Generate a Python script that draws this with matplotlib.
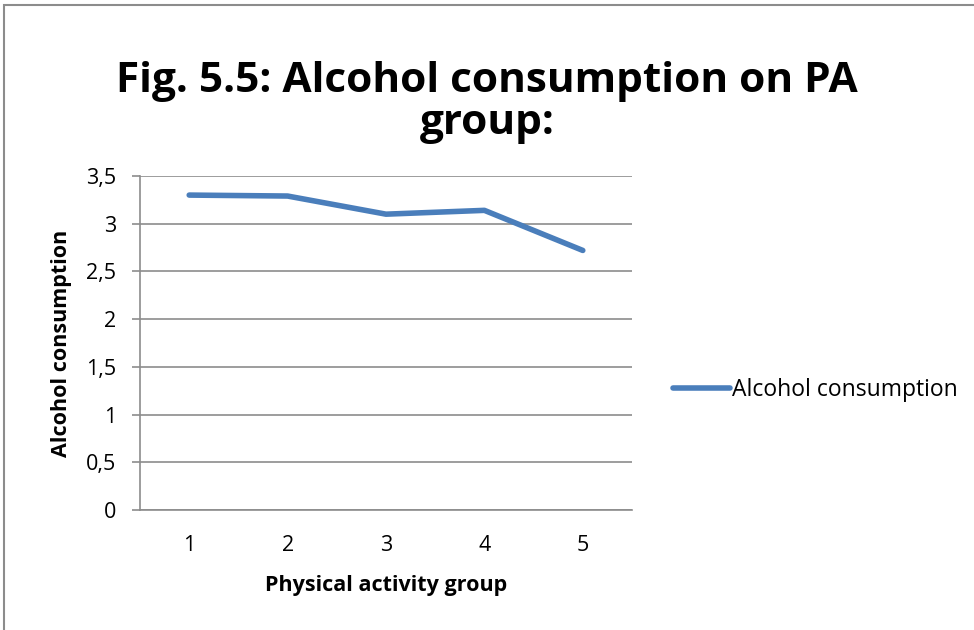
import matplotlib
matplotlib.use("Agg")
from matplotlib import pyplot as plt
from matplotlib.patches import Rectangle

plt.rcParams["font.family"] = ["Open Sans", "DejaVu Sans"]

groups = [1, 2, 3, 4, 5]
alcohol = [3.30, 3.29, 3.10, 3.14, 2.72]
yticks = [0, 0.5, 1, 1.5, 2, 2.5, 3, 3.5]
ytick_labels = ["0", "0,5", "1", "1,5", "2", "2,5", "3", "3,5"]

line_color = "#4a7ebb"
grid_color = "#8c8c8c"

fig = plt.figure(figsize=(9.74, 6.3), dpi=100)

# chart border (only left and top show in the original)
fig.patches.append(Rectangle((4 / 974, -0.05), 1.2, 1 - 5 / 630 + 0.05,
                             transform=fig.transFigure, fill=False,
                             edgecolor=grid_color, linewidth=1.5))

ax = fig.add_axes([140 / 974, 1 - 510 / 630, 492 / 974, 334 / 630])
ax.plot(groups, alcohol, color=line_color, linewidth=4,
        solid_capstyle="round", solid_joinstyle="round",
        label="Alcohol consumption")

ax.set_xlim(0.5, 5.5)
ax.set_ylim(0, 3.5)
ax.set_xticks(groups)
ax.set_yticks(yticks)
ax.set_yticklabels(ytick_labels)
ax.grid(axis="y", color=grid_color, linewidth=1.2)
ax.set_axisbelow(True)
for s in ["top", "right"]:
    ax.spines[s].set_visible(False)
ax.spines["left"].set_color(grid_color)
ax.spines["bottom"].set_color(grid_color)
ax.spines["left"].set_linewidth(1.2)
ax.spines["bottom"].set_linewidth(1.2)
ax.tick_params(axis="y", length=6, color=grid_color, width=1.2,
               labelsize=15.5, pad=11)
ax.tick_params(axis="x", length=0, labelsize=15.5, pad=18)

ax.set_xlabel("Physical activity group", fontsize=15.5, fontweight="bold",
              labelpad=14)
ax.set_ylabel("Alcohol consumption", fontsize=15.5, fontweight="bold",
              labelpad=10)

fig.text(487 / 974, 1 - 81 / 630, "Fig. 5.5: Alcohol consumption on PA",
         ha="center", va="center", fontsize=30.5, fontweight="bold")
fig.text(487 / 974, 1 - 124 / 630, "group:",
         ha="center", va="center", fontsize=30.5, fontweight="bold")

fig.legend(loc="center left", bbox_to_anchor=(662 / 974, 1 - 390 / 630),
           frameon=False, fontsize=16.5, handlelength=2.45, handletextpad=0.1,
           borderpad=0)

fig.savefig("out.png", dpi=100)
